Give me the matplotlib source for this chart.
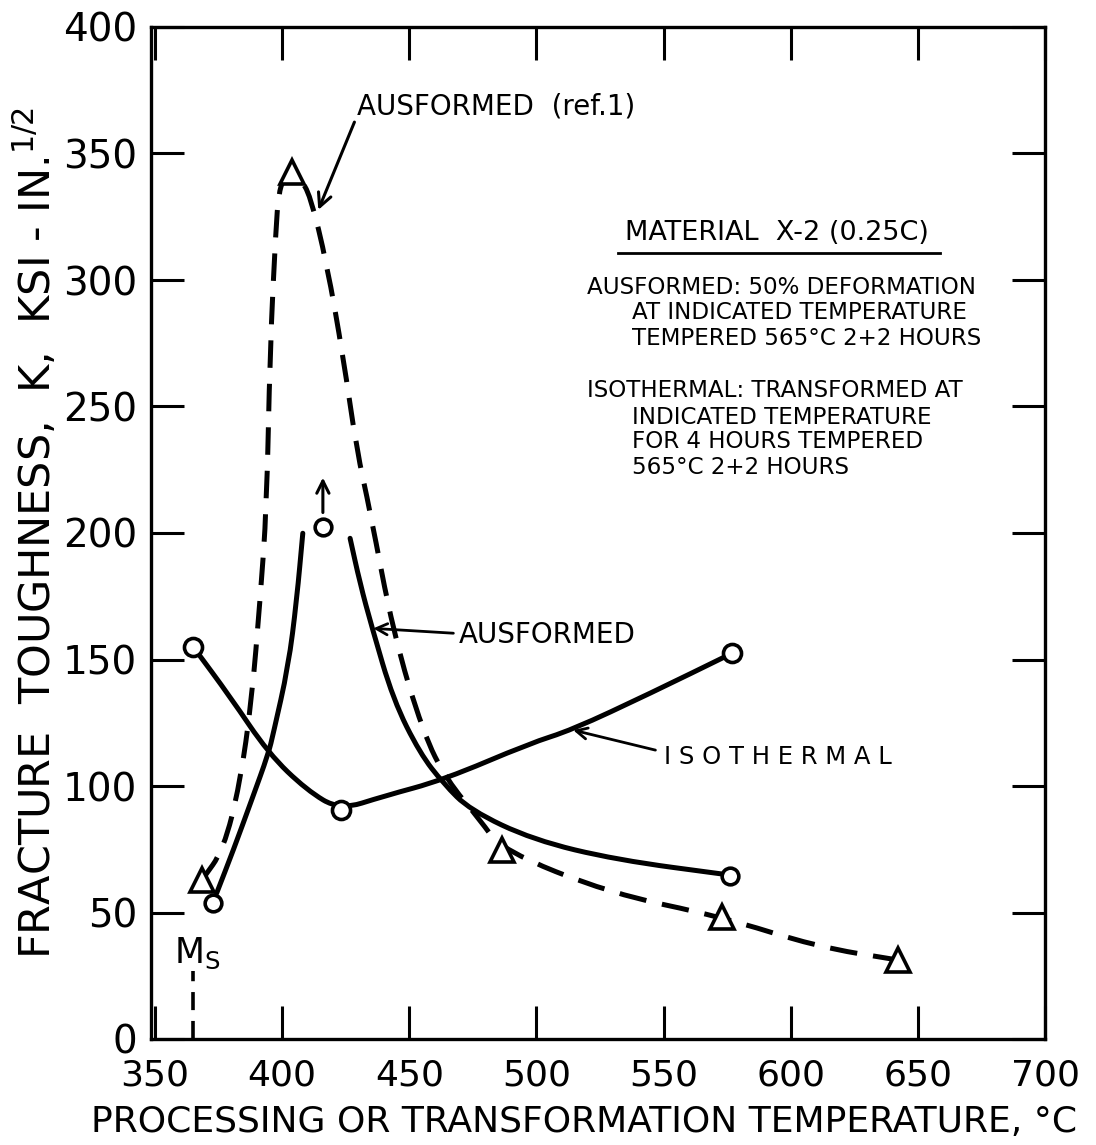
import matplotlib
matplotlib.use("Agg")
import matplotlib.pyplot as plt
from matplotlib.path import Path
from matplotlib.patches import PathPatch

# ---------------- data ----------------
# Isothermal (solid line, open circles)
iso_pts_x = [365, 423, 577]
iso_pts_y = [155, 90.5, 152.5]
iso_curve_x = [365, 379.5, 394.6, 409.6, 422.7, 440, 463.4, 497.5, 513.8, 544.7, 576.8]
iso_curve_y = [155, 135.3, 112.9, 98.4, 90.5, 96, 102.4, 116.9, 122.1, 136.6, 152.4]

# Ausformed, this work (solid line, open circles)
aus_pts_x = [372.8, 416, 576.3]
aus_pts_y = [53.8, 202.5, 64.6]
aus_left_x = [374.2, 380.8, 388, 394.6, 396.5, 402.4, 405.7, 408.1]
aus_left_y = [57.6, 74.7, 94.5, 112.9, 120.8, 147.2, 173.5, 199.9]
aus_right_x = [426.7, 430.6, 435.2, 443.7, 454.2, 463.4, 473.9, 498.7, 531.5, 576.1]
aus_right_y = [197.9, 180.2, 163, 134, 112.9, 101, 90.5, 78.7, 70.8, 64.8]

# Ausformed (ref. 1) (dashed line, open triangles)
ref_pts_x = [368.4, 403.7, 486.3, 572.8, 642.3]
ref_pts_y = [62.8, 342.8, 74.7, 48.3, 31.2]
ref_curve_x = [368.4, 376.9, 383.4, 388, 391.3, 393.9, 395.2, 397.5, 398.6, 400.5,
               403.7, 407, 411, 417.5, 424, 429.3, 434.5, 443.7, 455.5, 464.7,
               477.8, 486.3, 528.9, 572.8, 610.2, 642.3]
ref_curve_y = [62.8, 74.7, 101, 134, 173.5, 210, 272, 320, 334, 340,
               342.8, 340, 333.6, 306.7, 269.6, 232.8, 209, 160.4, 120.8, 102.4,
               86.6, 74.7, 57.6, 48.3, 36.5, 31.2]

# Ms line
ms_x = 364.8
ms_y = [0, 27]

x_ticks = [350, 400, 450, 500, 550, 600, 650, 700]
y_ticks = [0, 50, 100, 150, 200, 250, 300, 350, 400]


def smooth_curve(ax, xs, ys, **kw):
    """Draw a smooth quadratic-Bezier path guided by the read points."""
    pts = list(zip(xs, ys))
    verts = [pts[0]]
    codes = [Path.MOVETO]
    mids = [((pts[i][0] + pts[i + 1][0]) / 2, (pts[i][1] + pts[i + 1][1]) / 2)
            for i in range(len(pts) - 1)]
    verts.append(mids[0])
    codes.append(Path.LINETO)
    for i in range(1, len(pts) - 1):
        verts += [pts[i], mids[i]]
        codes += [Path.CURVE3, Path.CURVE3]
    verts.append(pts[-1])
    codes.append(Path.LINETO)
    patch = PathPatch(Path(verts, codes), facecolor='none', edgecolor='black',
                      transform=ax.transData, **kw)
    ax.add_patch(patch)
    return patch


# ---------------- figure ----------------
plt.rcParams['font.family'] = ['DejaVu Sans']
fig = plt.figure(figsize=(10.96, 11.45), dpi=100)
ax = fig.add_axes([151/1096, 1 - 1039/1145, (1045 - 151)/1096, (1039 - 27)/1145])
ax.set_xlim(348.4, 700)
ax.set_ylim(0, 400)

lw = 3.6
smooth_curve(ax, iso_curve_x, iso_curve_y, lw=lw, capstyle='round', zorder=2)
smooth_curve(ax, aus_left_x, aus_left_y, lw=lw, capstyle='round', zorder=2)
smooth_curve(ax, aus_right_x, aus_right_y, lw=lw, capstyle='round', zorder=2)
smooth_curve(ax, ref_curve_x, ref_curve_y, lw=lw, linestyle=(0, (5.5, 3.2)), zorder=2)
ax.plot([ms_x, ms_x], ms_y, color='black', lw=2.6, linestyle=(0, (5, 3)), zorder=2)

ax.plot(iso_pts_x, iso_pts_y, 'o', ms=13, mfc='white', mec='black', mew=2.6, zorder=3)
ax.plot(aus_pts_x, aus_pts_y, 'o', ms=12, mfc='white', mec='black', mew=2.6, zorder=3)
ax.plot(ref_pts_x, ref_pts_y, '^', ms=17, mfc='white', mec='black', mew=2.6, zorder=3)

# arrow above the lower-bound point
ax.annotate('', xy=(416, 223), xytext=(416, 207),
            arrowprops=dict(arrowstyle='->', lw=2.2, color='black', mutation_scale=22))

# labels with arrows
ax.annotate('AUSFORMED  (ref.1)', xy=(414.2, 327.7), xytext=(429.5, 368.4),
            fontsize=20, ha='left', va='center',
            arrowprops=dict(arrowstyle='->', lw=2.2, color='black', mutation_scale=24,
                            shrinkA=0, shrinkB=0, relpos=(0, 0.2)))
ax.annotate('AUSFORMED', xy=(435.8, 162.3), xytext=(469.5, 159.7),
            fontsize=20, ha='left', va='center',
            arrowprops=dict(arrowstyle='->', lw=2.0, color='black', mutation_scale=20,
                            shrinkA=2, shrinkB=0, relpos=(0, 0.55)))
ax.annotate('I S O T H E R M A L', xy=(514.4, 122.1), xytext=(550, 111.5),
            fontsize=17.5, ha='left', va='center',
            arrowprops=dict(arrowstyle='->', lw=2.0, color='black', mutation_scale=20,
                            shrinkA=4, shrinkB=0, relpos=(0, 0.7)))

ax.text(366.5, 34, r'M$_{\mathrm{S}}$', fontsize=25, ha='center', va='center')

# description block
fs = 16.6
ax.text(534.8, 318.6, 'MATERIAL  X-2 (0.25C)', fontsize=19.5, ha='left', va='center')
ax.plot([532.1, 658.7], [310.8, 310.8], color='black', lw=2.0)
ax.text(519.9, 297.2, 'AUSFORMED: 50% DEFORMATION', fontsize=fs, ha='left', va='center')
ax.text(537.6, 287.0, 'AT INDICATED TEMPERATURE', fontsize=fs, ha='left', va='center')
ax.text(537.6, 277.0, 'TEMPERED 565°C 2+2 HOURS', fontsize=fs, ha='left', va='center')
ax.text(519.9, 256.5, 'ISOTHERMAL: TRANSFORMED AT', fontsize=fs, ha='left', va='center')
ax.text(537.6, 245.8, 'INDICATED TEMPERATURE', fontsize=fs, ha='left', va='center')
ax.text(537.6, 236.0, 'FOR 4 HOURS TEMPERED', fontsize=fs, ha='left', va='center')
ax.text(537.6, 225.7, '565°C 2+2 HOURS', fontsize=fs, ha='left', va='center')

# axes styling
for s in ax.spines.values():
    s.set_linewidth(2.4)
ax.set_xticks(x_ticks)
ax.set_yticks(y_ticks)
ax.set_xticklabels([str(v) for v in x_ticks], fontsize=26)
ax.set_yticklabels([str(v) for v in y_ticks], fontsize=28)
ax.tick_params(direction='in', length=24, width=2.2, top=True, right=True)
ax.tick_params(axis='x', pad=14)
ax.tick_params(axis='y', pad=10)
ax.set_xlabel('PROCESSING OR TRANSFORMATION TEMPERATURE, °C', fontsize=26)
ax.xaxis.set_label_coords((584 - 151) / 894, -0.065)
ax.set_ylabel(r'FRACTURE  TOUGHNESS,  K,  KSI - IN.$^{\mathrm{1/2}}$', fontsize=31)
ax.yaxis.set_label_coords((60 - 151) / 894, 0.5)

fig.savefig('out.png', dpi=100)
